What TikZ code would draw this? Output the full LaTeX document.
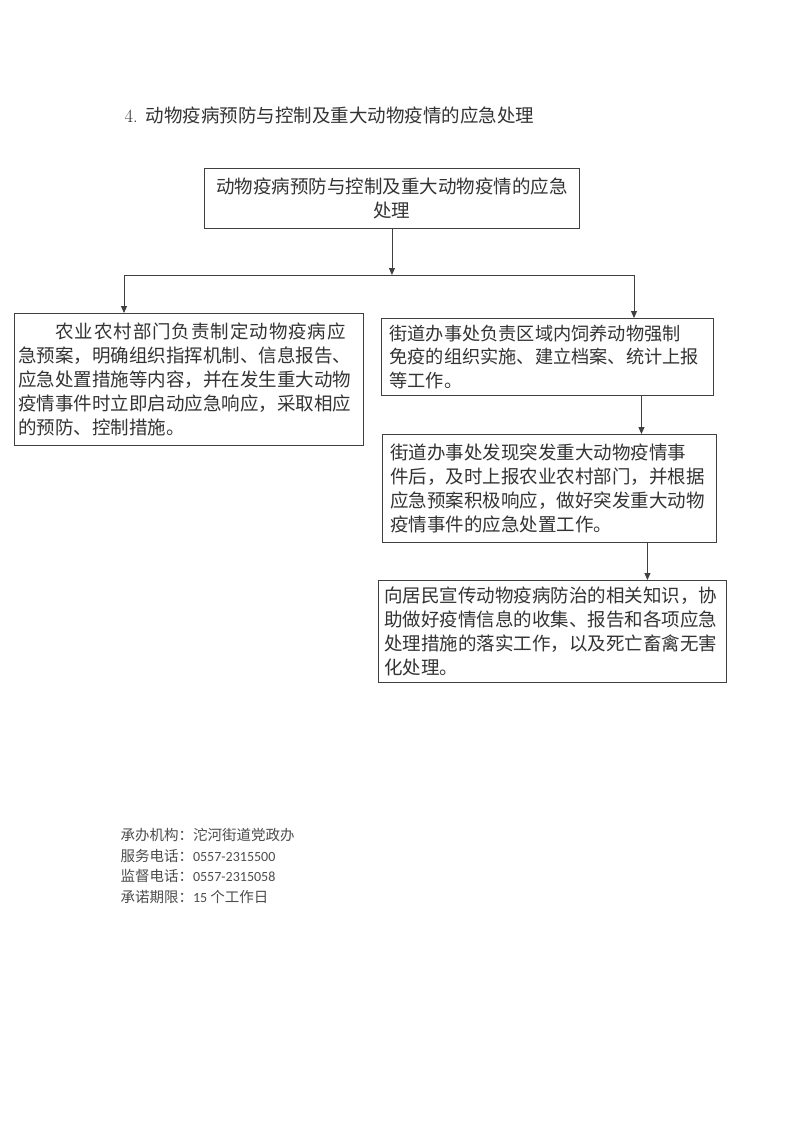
\documentclass[tikz,border=0pt]{standalone}
\usepackage{fontspec}
\newfontfamily\cjk{Noto Sans CJK SC}
\newfontfamily\cjkwide[LetterSpace=5]{Noto Sans CJK SC}
\newfontfamily\numfont{Carlito}
\usetikzlibrary{arrows.meta, positioning}

\tikzset{
  box/.style={draw=black!75, line width=0.9pt, align=left, inner ysep=0pt,
    text=black!80, font=\cjk\fontsize{18.5}{24}\selectfont, anchor=north west},
  arr/.style={draw=black!75, line width=0.9pt, -{Triangle[length=7pt,width=6pt]}},
  wire/.style={draw=black!75, line width=0.9pt},
  foot/.style={align=left, anchor=west, text=black!70, font=\cjk\fontsize{14.5}{20.5}\selectfont},
}

\begin{document}
\begin{tikzpicture}[x=1pt, y=-1pt]
	% page
	\fill[white] (0,0) rectangle (793,1121);
	\useasboundingbox (0,0) rectangle (793,1121);
	% heading
	\node[anchor=west, text=black!80, font=\fontsize{18.5}{24}\selectfont] (title) at (121,115)
		{4.\hspace{8pt}{\cjk 动物疫病预防与控制及重大动物疫情的应急处理}};
	% boxes
	\node[box, align=center, inner xsep=4pt, minimum width=375pt, minimum height=60pt, text width=367pt] (top) at (204,168)
		{动物疫病预防与控制及重大动物疫情的应急\\处理};
	\node[box, inner xsep=4pt, minimum width=349pt, minimum height=132pt, text width=341pt] (nong) at (14,313)
		{{\cjkwide\hspace*{2em}农业农村部门负责制定动物疫病应}\\
		 急预案，明确组织指挥机制、信息报告、\\
		 应急处置措施等内容，并在发生重大动物\\
		 疫情事件时立即启动应急响应，采取相应\\
		 的预防、控制措施。};
	\node[box, inner xsep=8pt, minimum width=332pt, minimum height=77pt, text width=316pt,
		font=\cjk\fontsize{18.2}{23.5}\selectfont] (jie) at (381,318)
		{街道办事处负责区域内饲养动物强制\\
		 免疫的组织实施、建立档案、统计上报\\
		 等工作。};
	\node[box, inner xsep=8pt, minimum width=334pt, minimum height=108pt, text width=318pt] (fa) at (382,434)
		{街道办事处发现突发重大动物疫情事\\
		 件后，及时上报农业农村部门，并根据\\
		 应急预案积极响应，做好突发重大动物\\
		 疫情事件的应急处置工作。};
	\node[box, inner xsep=6pt, minimum width=348pt, minimum height=102pt, text width=336pt] (xuan) at (378,580)
		{向居民宣传动物疫病防治的相关知识，协\\
		 助做好疫情信息的收集、报告和各项应急\\
		 处理措施的落实工作，以及死亡畜禽无害\\
		 化处理。};
	% connectors
	\coordinate (hub) at (top.south |- 0,275);
	\coordinate (lt) at (124,275);
	\coordinate (rt) at (634,275);
	\draw[arr] (top.south) -- (hub);
	\draw[wire] (lt) -- (rt);
	\draw[arr] (lt) -- (lt |- nong.north);
	\draw[arr] (rt) -- (rt |- jie.north);
	\draw[arr] ([xshift=94pt]jie.south) -- ([xshift=92pt]fa.north);
	\draw[arr] ([xshift=98pt]fa.south) -- ([xshift=95pt]xuan.north);
	% service info
	\node[foot] (info) at (117,866)
		{承办机构：沱河街道党政办\\
		 服务电话：{\numfont\fontsize{14}{20.5}\selectfont 0557-2315500}\\
		 监督电话：{\numfont\fontsize{14}{20.5}\selectfont 0557-2315058}\\
		 承诺期限：{\numfont\fontsize{14}{20.5}\selectfont 15} 个工作日};
\end{tikzpicture}
\end{document}
